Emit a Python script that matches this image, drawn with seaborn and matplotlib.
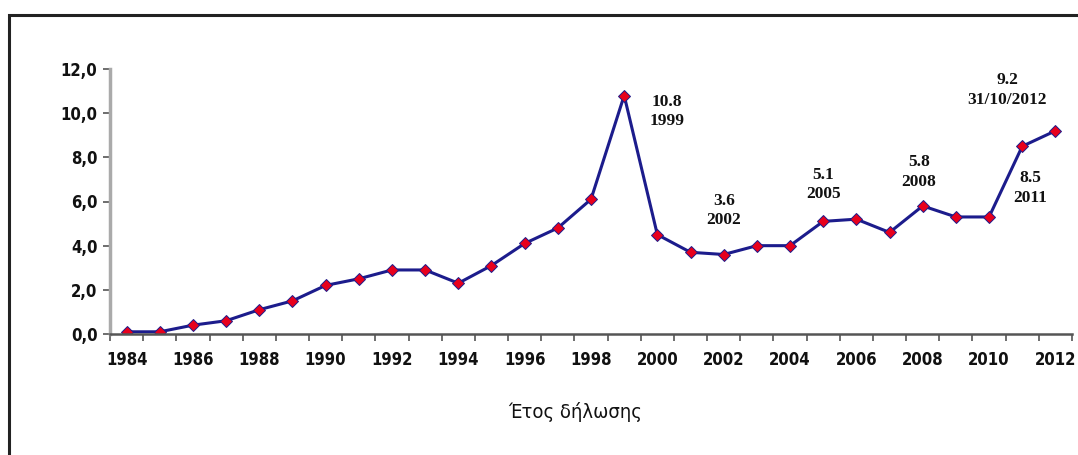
import matplotlib
matplotlib.use("Agg")
import matplotlib.pyplot as plt
import seaborn as sns
import numpy as np
import pandas as pd
from matplotlib.patches import Rectangle
from matplotlib.ticker import FixedLocator, FuncFormatter
from matplotlib import font_manager as fm

years = list(range(1984, 2013))
values = [0.1, 0.1, 0.4, 0.6, 1.1, 1.5, 2.2, 2.5, 2.9, 2.9, 2.3, 3.1, 4.1, 4.8, 6.1,
          10.8, 4.5, 3.7, 3.6, 4.0, 4.0, 5.1, 5.2, 4.6, 5.8, 5.3, 5.3, 8.5, 9.2]
tick_years = list(range(1984, 2013, 2))
y_ticks = [0, 2, 4, 6, 8, 10, 12]
x_label = "Έτος δήλωσης"
annotations = [
    (1999, "10.8\n1999", (43, -16)),
    (2002, "3.6\n2002", (0, 44)),
    (2005, "5.1\n2005", (0, 37)),
    (2008, "5.8\n2008", (-4, 34)),
    (2012, "9.2\n31/10/2012", (-48, 41)),
    (2011, "8.5\n2011", (8, -42)),
]

sns.set_theme(style="white")
plt.rcParams['font.family'] = ['DejaVu Sans']

# condensed bold font for ticks if available
cond_bold = None
cond_reg = None
for f in fm.findSystemFonts():
    n = f.split("/")[-1]
    if n == "DejaVuSansCondensed-Bold.ttf":
        cond_bold = f
    if n == "DejaVuSansCondensed.ttf":
        cond_reg = f
tick_fp = fm.FontProperties(fname=cond_bold, size=12) if cond_bold else fm.FontProperties(family="DejaVu Sans", weight="bold", size=11.5)
lab_fp = fm.FontProperties(fname=cond_reg, size=14.5) if cond_reg else fm.FontProperties(family="DejaVu Sans", size=14)

df = pd.DataFrame({"year": years, "value": values})

fig = plt.figure(figsize=(10.78, 4.55), dpi=100)
ax = fig.add_axes([110/1078, 1 - 334/455, (1072-110)/1078, (334-69)/455])

sns.lineplot(data=df, x="year", y="value", ax=ax, color="#1c1c8c", linewidth=2.2,
             marker="D", markersize=6, markerfacecolor="#e8001c",
             markeredgecolor="#1c1c8c", markeredgewidth=0.7)

ax.set_xlim(1983.5, 2012.5)
ax.set_ylim(0, 12)
ax.set_yticks(y_ticks)
ax.yaxis.set_major_formatter(FuncFormatter(lambda v, p: f"{v:.1f}".replace(".", ",")))
ax.set_xticks(tick_years)
ax.set_xticklabels([str(y) for y in tick_years])
ax.xaxis.set_minor_locator(FixedLocator(np.arange(1983.5, 2013.0, 1.0)))
ax.tick_params(axis="x", which="major", length=0, pad=12)
ax.tick_params(axis="x", which="minor", length=5, width=1.2, color="#555555", direction="out", bottom=True)
ax.tick_params(axis="y", length=5, width=1.2, color="#555555", direction="out", left=True, pad=4)
for lab in ax.get_xticklabels() + ax.get_yticklabels():
    lab.set_fontproperties(tick_fp)
    lab.set_color("#111111")

for s in ["top", "right"]:
    ax.spines[s].set_visible(False)
ax.spines["left"].set_color("#aaaaaa")
ax.spines["left"].set_linewidth(2.5)
ax.spines["bottom"].set_color("#555555")
ax.spines["bottom"].set_linewidth(1.8)
ax.set_xlabel("")
ax.set_ylabel("")
ax.grid(False)

for yr, txt, off in annotations:
    v = values[years.index(yr)]
    ax.annotate(txt, xy=(yr, v), xytext=off, textcoords="offset pixels",
                ha="center", va="center", fontsize=12.5, fontweight="bold",
                family=["Liberation Serif", "DejaVu Serif"], color="#111111",
                linespacing=1.3)

fig.text(575/1078, 1 - 412/455, x_label, ha="center", va="center",
         fontproperties=lab_fp, color="#111111")

fig.patches.append(Rectangle((9/1078, -0.05), 1.2, 1 - 15/455 + 0.05,
                             transform=fig.transFigure, fill=False,
                             edgecolor="#222222", linewidth=2.2))

fig.savefig("out.png", dpi=100)
